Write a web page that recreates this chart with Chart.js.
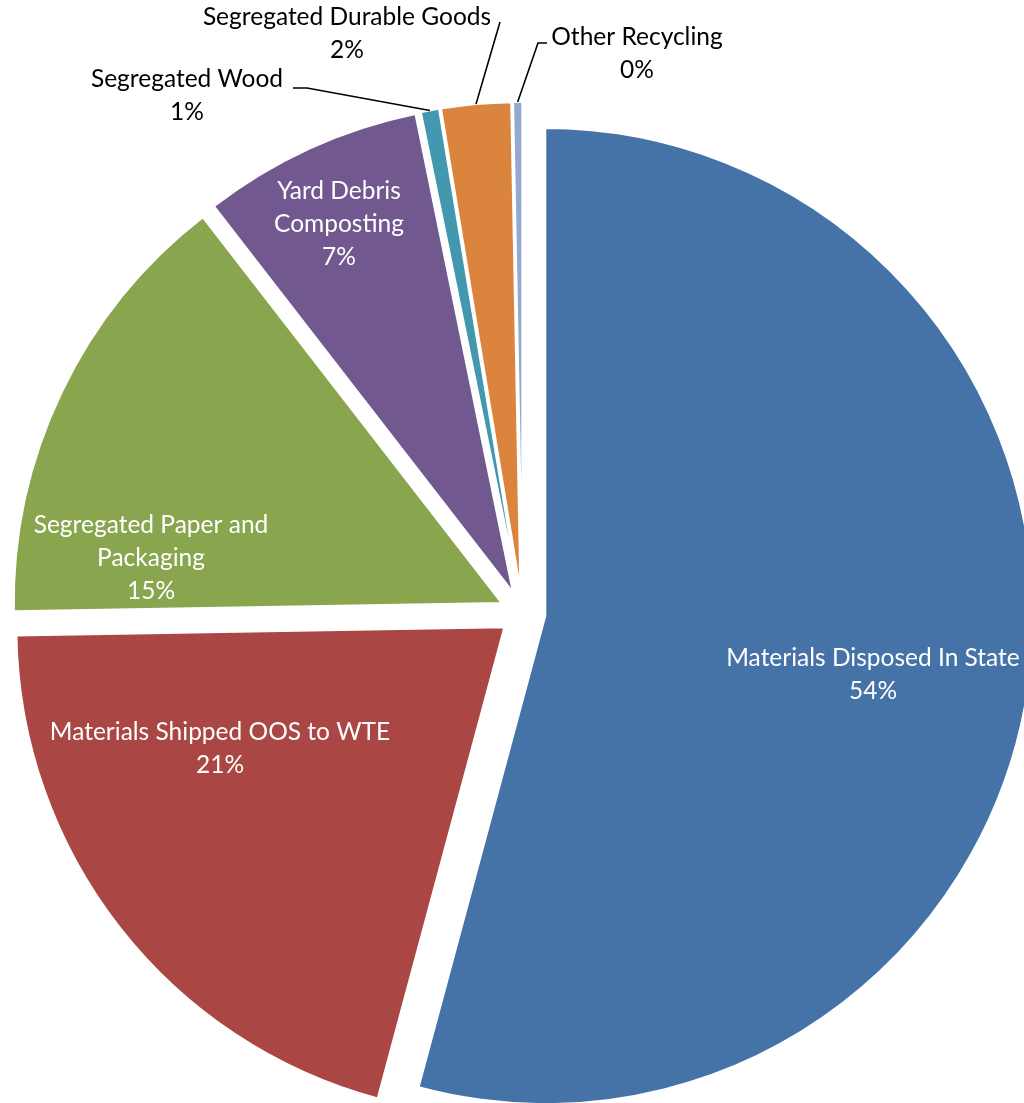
<!DOCTYPE html>
<html>
<head>
<meta charset="utf-8">
<script src="https://cdn.jsdelivr.net/npm/chart.js@4.4.1/dist/chart.umd.min.js"></script>
<style>
  html, body { margin: 0; padding: 0; background: #fff; }
  #wrap { width: 1024px; height: 1103px; position: relative; }
</style>
</head>
<body>
<div id="wrap"><canvas id="pieChart"></canvas></div>
<script>
const categories = [
  "Materials Disposed In State",
  "Materials Shipped OOS to WTE",
  "Segregated Paper and Packaging",
  "Yard Debris Composting",
  "Segregated Wood",
  "Segregated Durable Goods",
  "Other Recycling",
];
const shares = [54.18, 20.55, 14.78, 7.29, 0.6, 2.3, 0.3];
const sliceColors = ["#4572A7", "#AA4643", "#89A54E", "#71588F", "#4198AF", "#DB843D", "#93A9CF"];

// how each label wraps in the picture
const labelLines = [
  ["Materials Disposed In State"],
  ["Materials Shipped OOS to WTE"],
  ["Segregated Paper and", "Packaging"],
  ["Yard Debris", "Composting"],
  ["Segregated Wood"],
  ["Segregated Durable Goods"],
  ["Other Recycling"],
];

const EXPLODE = 23; // px each slice is pulled out along its middle
const RADIUS = 488;
const LINE_H = 33;

// where each label sits (first baseline) and its leader line start
const labelLayout = [
  { x: 873, y: 666, color: "#fff" },
  { x: 220, y: 740, color: "#fff" },
  { x: 151, y: 533, color: "#fff" },
  { x: 339, y: 199, color: "#fff" },
  { x: 187, y: 87, color: "#000", leader: [[293, 88], [307, 88]] },
  { x: 347, y: 25, color: "#000", leader: [[500, 22]] },
  { x: 637, y: 45, color: "#000", leader: [[547, 43], [538, 43]] },
];

// pull every arc out from the centre (chart.js offset also grows and trims small arcs)
const explode = {
  id: "explode",
  afterDatasetUpdate(chart, args) {
    args.meta.data.forEach((arc) => {
      const mid = (arc.startAngle + arc.endAngle) / 2;
      arc.x += Math.cos(mid) * EXPLODE;
      arc.y += Math.sin(mid) * EXPLODE;
    });
  },
};

const sliceLabels = {
  id: "sliceLabels",
  afterDatasetsDraw(chart) {
    const ctx = chart.ctx;
    const meta = chart.getDatasetMeta(0);
    const total = shares.reduce((a, b) => a + b, 0);
    ctx.save();
    ctx.font = "24.5px Lato";
    ctx.textAlign = "center";
    ctx.textBaseline = "alphabetic";
    meta.data.forEach((arc, i) => {
      const spot = labelLayout[i];
      const lines = labelLines[i].concat(Math.round((shares[i] / total) * 100) + "%");
      if (spot.leader) {
        const mid = (arc.startAngle + arc.endAngle) / 2;
        ctx.beginPath();
        ctx.moveTo(spot.leader[0][0], spot.leader[0][1]);
        spot.leader.slice(1).forEach((p) => ctx.lineTo(p[0], p[1]));
        ctx.lineTo(arc.x + Math.cos(mid) * RADIUS, arc.y + Math.sin(mid) * RADIUS);
        ctx.strokeStyle = "#000";
        ctx.lineWidth = 1.6;
        ctx.stroke();
      }
      ctx.fillStyle = spot.color;
      lines.forEach((t, k) => ctx.fillText(t, spot.x, spot.y + k * LINE_H));
    });
    ctx.restore();
  },
};

new Chart(document.querySelector("#pieChart"), {
  type: "pie",
  data: {
    labels: categories,
    datasets: [
      {
        data: shares,
        backgroundColor: sliceColors,
        borderColor: "#fff",
        borderWidth: 2,
        clip: false,
      },
    ],
  },
  options: {
    responsive: true,
    maintainAspectRatio: false,
    animation: false,
    radius: RADIUS,
    layout: { padding: { left: 21, top: 123, right: 0, bottom: 0 } },
    plugins: {
      legend: { display: false },
      tooltip: { enabled: false },
    },
    events: [],
  },
  plugins: [explode, sliceLabels],
});
</script>
</body>
</html>
